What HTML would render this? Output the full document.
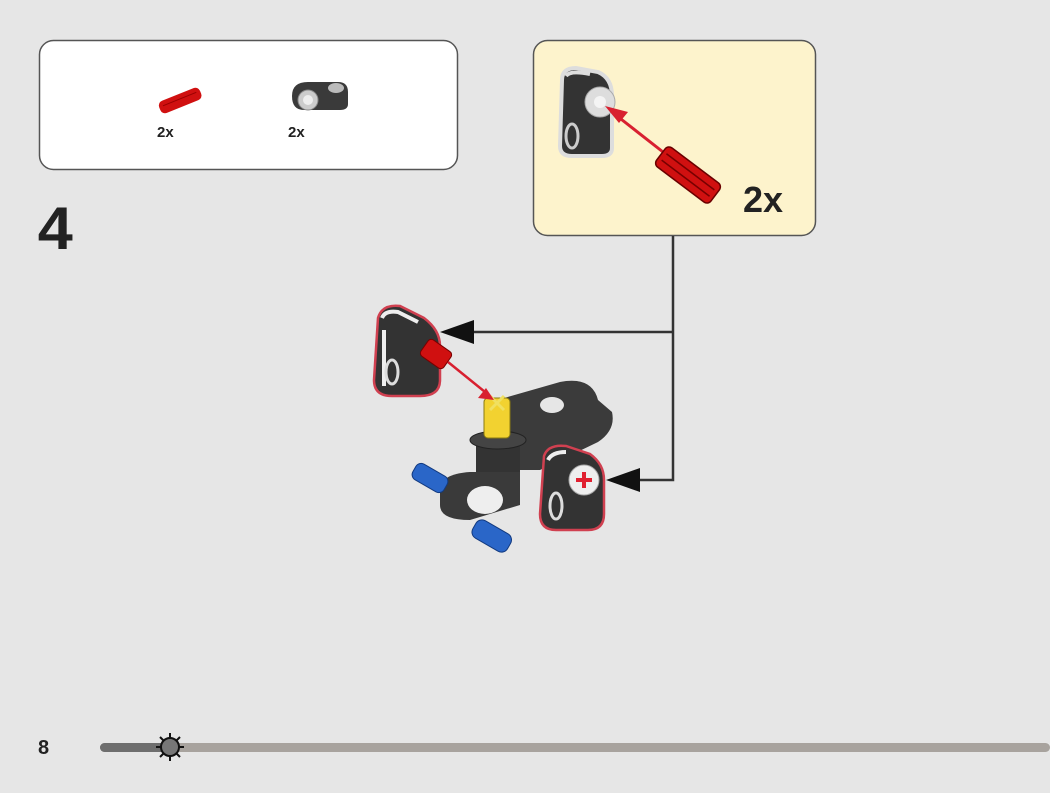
<!DOCTYPE html>
<html><head><meta charset="utf-8"><style>
html,body{margin:0;padding:0;background:#e6e6e6;}
svg{display:block;}
text{font-family:"Liberation Sans",sans-serif;font-weight:bold;fill:#222;}
</style></head><body>
<svg width="1050" height="793" viewBox="0 0 1050 793">
<rect width="1050" height="793" fill="#e6e6e6"/>
<rect x="39.5" y="40.5" width="418" height="129" rx="14" fill="#fff" stroke="#555" stroke-width="1.5"/>
<g transform="translate(180,100) rotate(-22)"><rect x="-22" y="-6" width="44" height="13" rx="5" fill="#d01010"/><line x1="-18" y1="-1" x2="18" y2="-1" stroke="#900" stroke-width="1"/></g>
<text x="157" y="137" font-size="15">2x</text>
<g transform="translate(318,96)">
<path d="M-26,0 Q-26,-14 -10,-14 L20,-14 Q30,-14 30,-4 L30,8 Q30,14 22,14 L-14,14 Q-26,14 -26,0Z" fill="#3a3a3a"/>
<circle cx="-10" cy="4" r="10" fill="#ccc" stroke="#888"/><circle cx="-10" cy="4" r="5" fill="#eee"/>
<ellipse cx="18" cy="-8" rx="8" ry="5" fill="#bbb"/>
</g>
<text x="288" y="137" font-size="15">2x</text>
<text x="36" y="249" font-size="60" fill="#222" transform="scale(1.05,1)">4</text>
<rect x="533.5" y="40.5" width="282" height="195" rx="14" fill="#fdf3cc" stroke="#555" stroke-width="1.5"/>
<g>
<path d="M562,80 Q562,68 576,68 L598,72 Q612,78 612,96 L612,148 Q612,156 602,156 L572,156 Q560,156 560,146Z" fill="#333" stroke="#ddd" stroke-width="4"/>
<path d="M566,76 Q570,70 590,74" stroke="#ddd" stroke-width="4" fill="none"/>
<circle cx="600" cy="102" r="15" fill="#ddd" stroke="#aaa"/><circle cx="600" cy="102" r="6" fill="#f4f4f4"/>
<ellipse cx="572" cy="136" rx="6" ry="12" fill="none" stroke="#ccc" stroke-width="3"/>
</g>
<line x1="663" y1="152" x2="612" y2="112" stroke="#d82030" stroke-width="3"/>
<polygon points="605,106 628,112 619,123" fill="#d82030"/>
<g transform="translate(688,175) rotate(37)"><rect x="-34" y="-12" width="68" height="24" rx="5" fill="#d01010" stroke="#6a0000" stroke-width="1.5"/><line x1="-30" y1="-4" x2="30" y2="-4" stroke="#700" stroke-width="1.5"/><line x1="-30" y1="4" x2="30" y2="4" stroke="#700" stroke-width="1.5"/></g>
<text x="743" y="212" font-size="36">2x</text>
<polyline points="673,236 673,480 640,480" fill="none" stroke="#333" stroke-width="2.5"/>
<line x1="673" y1="332" x2="470" y2="332" stroke="#333" stroke-width="2.5"/>
<polygon points="440,332 474,320 474,344" fill="#111"/>
<polygon points="606,480 640,468 640,492" fill="#111"/>
<path d="M490,402 L560,382 Q592,376 598,400 L612,412 Q616,430 598,442 L540,470 L500,470Z" fill="#3b3b3b"/>
<ellipse cx="552" cy="405" rx="12" ry="8" fill="#e6e6e6"/>
<rect x="476" y="440" width="44" height="40" fill="#333"/>
<ellipse cx="498" cy="440" rx="28" ry="9" fill="#444" stroke="#222"/>
<path d="M440,490 Q440,474 470,472 L520,472 L520,505 L470,520 Q440,520 440,505Z" fill="#3a3a3a"/>
<ellipse cx="485" cy="500" rx="18" ry="14" fill="#eee"/>
<rect x="484" y="398" width="26" height="40" rx="4" fill="#f2d230" stroke="#8a7a10"/>
<path d="M490,396 L504,410 M504,396 L490,410" stroke="#f0e060" stroke-width="3"/>
<g transform="translate(430,478) rotate(30)"><rect x="-18" y="-9" width="36" height="18" rx="6" fill="#2a66c8" stroke="#123a80"/></g>
<g transform="translate(490,535) rotate(30)"><rect x="-18" y="-10" width="40" height="20" rx="7" fill="#2a66c8" stroke="#123a80"/></g>
<path d="M378,318 Q382,304 400,306 L424,318 Q440,330 440,346 L440,380 Q440,396 420,396 L392,396 Q374,396 374,380Z" fill="#333" stroke="#d04050" stroke-width="2.5"/>
<path d="M382,318 Q385,310 398,312 L418,322 M384,330 L384,386" stroke="#eee" stroke-width="4" fill="none"/>
<ellipse cx="392" cy="372" rx="6" ry="12" fill="none" stroke="#ddd" stroke-width="3"/>
<g transform="translate(436,354) rotate(35)"><rect x="-14" y="-10" width="28" height="20" rx="4" fill="#d01010" stroke="#700"/></g>
<line x1="448" y1="362" x2="490" y2="396" stroke="#d82030" stroke-width="2.5"/>
<polygon points="494,400 478,398 486,388" fill="#d82030"/>
<path d="M544,456 Q548,444 566,446 L590,454 Q604,464 604,480 L604,514 Q604,530 588,530 L556,530 Q540,530 540,514Z" fill="#333" stroke="#d04050" stroke-width="2.5"/>
<circle cx="584" cy="480" r="15" fill="#eee" stroke="#aaa"/>
<path d="M584,472 V488 M576,480 H592" stroke="#e02030" stroke-width="4"/>
<ellipse cx="556" cy="506" rx="6" ry="13" fill="none" stroke="#ddd" stroke-width="3"/>
<path d="M548,460 Q552,452 566,452" stroke="#eee" stroke-width="4" fill="none"/>
<text x="38" y="754" font-size="20">8</text>
<rect x="100" y="743" width="950" height="9" rx="4.5" fill="#a8a39e"/>
<rect x="100" y="743" width="72" height="9" rx="4.5" fill="#6e6e6e"/>
<g transform="translate(170,747)" stroke="#111" stroke-width="2">
<line x1="0" y1="-14" x2="0" y2="14"/><line x1="-14" y1="0" x2="14" y2="0"/>
<line x1="-10" y1="-10" x2="10" y2="10"/><line x1="-10" y1="10" x2="10" y2="-10"/>
<circle r="9" fill="#777" stroke="#111"/>
</g>
</svg>
</body></html>
